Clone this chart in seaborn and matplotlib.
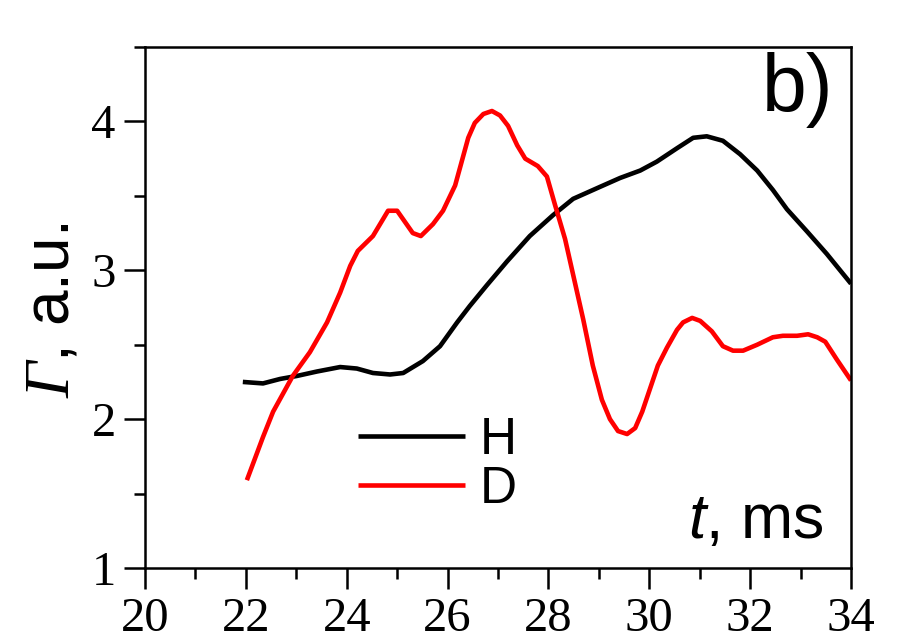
import matplotlib
matplotlib.use("Agg")
import matplotlib.pyplot as plt
from matplotlib.ticker import MultipleLocator
import seaborn as sns
import pandas as pd

# Time axis (ms) and particle flux (a.u.) for hydrogen
h_t = [21.94, 22.34, 22.68, 23.01, 23.41, 23.87, 24.20, 24.52, 24.86, 25.12,
       25.51, 25.85, 26.19, 26.44, 26.78, 27.18, 27.63, 28.09, 28.49, 29.02,
       29.42, 29.82, 30.15, 30.55, 30.87, 31.14, 31.46, 31.80, 32.14, 32.45,
       32.73, 33.13, 33.52, 34.00]
h_flux = [2.25, 2.24, 2.27, 2.29, 2.32, 2.35, 2.34, 2.31, 2.30, 2.31,
          2.39, 2.49, 2.65, 2.76, 2.90, 3.06, 3.23, 3.37, 3.48, 3.56,
          3.62, 3.67, 3.73, 3.82, 3.89, 3.90, 3.87, 3.78, 3.67, 3.54,
          3.41, 3.26, 3.11, 2.91]

# Time axis (ms) and particle flux (a.u.) for deuterium
d_t = [22.02, 22.34, 22.54, 22.93, 23.27, 23.61, 23.87, 24.07, 24.22, 24.52,
       24.82, 25.00, 25.31, 25.47, 25.71, 25.91, 26.15, 26.41, 26.54, 26.71,
       26.88, 27.04, 27.20, 27.38, 27.54, 27.79, 27.97, 28.13, 28.33, 28.69,
       28.88, 29.06, 29.22, 29.38, 29.56, 29.72, 29.86, 30.01, 30.17, 30.35,
       30.55, 30.67, 30.85, 31.01, 31.24, 31.46, 31.66, 31.86, 32.14, 32.45,
       32.65, 32.93, 33.15, 33.33, 33.49, 33.72, 34.00]
d_flux = [1.59, 1.88, 2.05, 2.29, 2.45, 2.65, 2.85, 3.03, 3.13, 3.23,
          3.40, 3.40, 3.25, 3.23, 3.31, 3.40, 3.57, 3.89, 3.99, 4.05,
          4.07, 4.04, 3.97, 3.84, 3.75, 3.70, 3.63, 3.44, 3.21, 2.67,
          2.36, 2.13, 2.00, 1.92, 1.90, 1.94, 2.05, 2.20, 2.36, 2.48,
          2.60, 2.65, 2.68, 2.66, 2.59, 2.49, 2.46, 2.46, 2.50, 2.55,
          2.56, 2.56, 2.57, 2.55, 2.52, 2.40, 2.26]

series_names = ["H", "D"]
series_colors = ["#000000", "#ff0000"]

x_ticks = [20, 22, 24, 26, 28, 30, 32, 34]
y_ticks = [1, 2, 3, 4]

sns.set_theme(style="ticks")
plt.rcParams["font.family"] = ["Liberation Sans", "DejaVu Sans"]
plt.rcParams["text.color"] = "black"
plt.rcParams["axes.labelcolor"] = "black"
plt.rcParams["xtick.color"] = "black"
plt.rcParams["ytick.color"] = "black"
plt.rcParams["mathtext.fontset"] = "custom"
plt.rcParams["mathtext.rm"] = "Liberation Serif:italic"
plt.rcParams["mathtext.sf"] = "Liberation Sans:italic"

df = pd.concat([
    pd.DataFrame({"t": h_t, "flux": h_flux, "species": series_names[0]}),
    pd.DataFrame({"t": d_t, "flux": d_flux, "species": series_names[1]}),
])

fig = plt.figure(figsize=(9.22, 6.31), dpi=100)
ax = fig.add_axes([145 / 922, 63 / 631, 706 / 922, 521 / 631])

sns.lineplot(data=df, x="t", y="flux", hue="species", hue_order=series_names,
             palette=series_colors, estimator=None, sort=False,
             linewidth=3.3, ax=ax)
for line in ax.get_lines():
    line.set_solid_joinstyle("round")
    line.set_solid_capstyle("butt")

ax.set_xlim(20, 34)
ax.set_ylim(1, 4.5)
ax.set_xticks(x_ticks)
ax.set_yticks(y_ticks)
ax.xaxis.set_minor_locator(MultipleLocator(1))
ax.yaxis.set_minor_locator(MultipleLocator(0.5))

for side in ["left", "right", "top", "bottom"]:
    ax.spines[side].set_visible(True)
    ax.spines[side].set_linewidth(1.8)
    ax.spines[side].set_color("black")

ax.tick_params(axis="both", which="major", direction="out", length=15,
               width=1.8, color="black", labelcolor="black", pad=6,
               labelsize=35, top=False, right=False)
ax.tick_params(axis="both", which="minor", direction="out", length=8,
               width=1.8, color="black", top=False, right=False)
for lab in ax.get_xticklabels() + ax.get_yticklabels():
    lab.set_fontfamily("Liberation Serif")

ax.set_xlabel("")
ax.set_ylabel(r"$\Gamma$, a.u.", fontsize=46)
ax.yaxis.set_label_coords(-0.09, 0.495)

ax.text(0.96, 0.058, r"$\mathsf{t}$, ms", transform=ax.transAxes,
        ha="right", va="baseline", fontsize=45)
ax.text(0.975, 0.99, "b)", transform=ax.transAxes,
        ha="right", va="top", fontsize=58)

leg = ax.legend(loc="center left", bbox_to_anchor=(0.302, 0.197),
                frameon=False, fontsize=37, handlelength=2.08,
                handletextpad=0.28, labelspacing=0.0, borderpad=0,
                borderaxespad=0)
for h in leg.get_lines():
    h.set_linewidth(3.3)

fig.savefig("out.png", dpi=100)
